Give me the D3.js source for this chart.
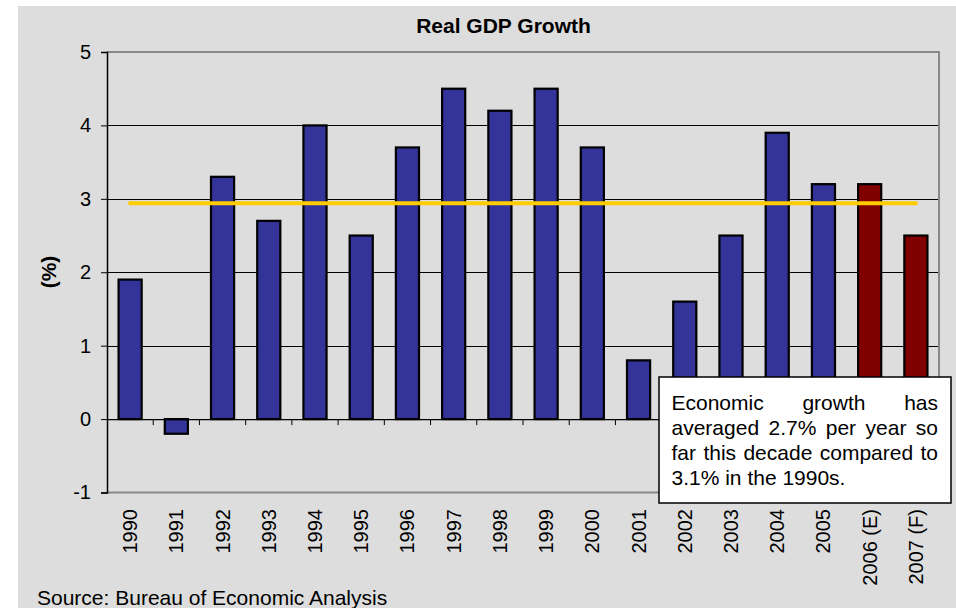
<!DOCTYPE html>
<html><head><meta charset="utf-8">
<script src="https://cdn.jsdelivr.net/npm/d3@7"></script>
<style>
html,body{margin:0;padding:0;background:#fff;}
text{font-family:"Liberation Sans",Arial,sans-serif;fill:#000;}
</style></head>
<body><svg id="c" width="956" height="608"></svg>
<script>
const categories = ["1990","1991","1992","1993","1994","1995","1996","1997","1998","1999","2000","2001","2002","2003","2004","2005","2006 (E)","2007 (F)"];
const growth = [1.9,-0.2,3.3,2.7,4.0,2.5,3.7,4.5,4.2,4.5,3.7,0.8,1.6,2.5,3.9,3.2,3.2,2.5];
const estimateFlags = [0,0,0,0,0,0,0,0,0,0,0,0,0,0,0,0,1,1];
const averageValue = 2.94;
const yTicks = [-1,0,1,2,3,4,5];
const yTickLabels = ["-1","0","1","2","3","4","5"];
const titleText = "Real GDP Growth";
const yLabel = "(%)";
const sourceText = "Source: Bureau of Economic Analysis";
const noteLines = ["Economic growth has","averaged 2.7% per year so","far this decade compared to","3.1% in the 1990s."];

const svg = d3.select("#c");
const L = 107, R = 939, T = 52, B = 492.5;

svg.append("rect").attr("x",18).attr("y",6).attr("width",938).attr("height",602).attr("fill","#dddddd");

const x = d3.scaleBand().domain(categories).range([L,R]).paddingInner(0.5).paddingOuter(0.25);
const y = d3.scaleLinear().domain([-1,5]).range([B,T]);

// gridlines
svg.append("g").selectAll("line").data([1,2,3,4]).join("line")
  .attr("x1",L).attr("x2",R).attr("y1",d=>Math.round(y(d))+0.5).attr("y2",d=>Math.round(y(d))+0.5)
  .attr("stroke","#000").attr("stroke-width",1);

// plot border (top/right/bottom grey)
svg.append("path").attr("d",`M${L},${y(5)}H${R}V${y(-1)}H${L}`).attr("fill","none")
  .attr("stroke","#888").attr("stroke-width",2);

// bars
svg.append("g").selectAll("rect").data(categories).join("rect")
  .attr("x",d=>x(d)).attr("width",x.bandwidth())
  .attr("y",(d,i)=>y(Math.max(0,growth[i])))
  .attr("height",(d,i)=>Math.abs(y(growth[i])-y(0)))
  .attr("fill",(d,i)=>estimateFlags[i]?"#800000":"#333399")
  .attr("stroke","#000").attr("stroke-width",2.2);

// average line
const first = categories[0], last = categories[categories.length-1];
svg.append("line")
  .attr("x1",x(first)+x.bandwidth()/2).attr("x2",x(last)+x.bandwidth()/2)
  .attr("y1",y(averageValue)).attr("y2",y(averageValue))
  .attr("stroke","#ffcc00").attr("stroke-width",4).attr("stroke-linecap","round");

// y axis
const yAxis = svg.append("g").attr("transform",`translate(${L},0)`)
  .call(d3.axisLeft(y).tickValues(yTicks).tickSize(6).tickPadding(10)
    .tickFormat((d,i)=>yTickLabels[i]));
yAxis.select(".domain").attr("stroke","#000").attr("stroke-width",1.5);
yAxis.selectAll(".tick line").attr("stroke","#000");
yAxis.selectAll("text").attr("font-size",20).attr("font-family",'"Liberation Sans",Arial,sans-serif').attr("fill","#000");

// x axis at zero
const xAxis = svg.append("g").attr("transform",`translate(0,${y(0)})`)
  .call(d3.axisBottom(x).tickSize(0).tickFormat(""));
xAxis.select(".domain").attr("stroke","#000").attr("stroke-width",1.2).attr("d",`M${L},0.5H${R}`);
// category boundary ticks
const step = x.step();
svg.append("g").selectAll("line").data(categories.slice(1)).join("line")
  .attr("x1",d=>x(d)-(step-x.bandwidth())/2).attr("x2",d=>x(d)-(step-x.bandwidth())/2)
  .attr("y1",y(0)).attr("y2",y(0)+6).attr("stroke","#000").attr("stroke-width",1);

// x labels
svg.append("g").selectAll("text").data(categories).join("text")
  .attr("transform",d=>`translate(${x(d)+x.bandwidth()/2},509) rotate(-90)`)
  .attr("text-anchor","end").attr("dy","0.35em").attr("font-size",20).text(d=>d);

// title
svg.append("text").attr("x",503.5).attr("y",32.5).attr("text-anchor","middle")
  .attr("font-size",21).attr("font-weight","bold").text(titleText);

// y label
svg.append("text").attr("transform","translate(56,272) rotate(-90)").attr("text-anchor","middle")
  .attr("font-size",21).attr("font-weight","bold").text(yLabel);

// source
svg.append("text").attr("x",37).attr("y",605).attr("font-size",21).text(sourceText);

// annotation box
svg.append("rect").attr("x",659).attr("y",377).attr("width",292).attr("height",126)
  .attr("fill","#fff").attr("stroke","#000").attr("stroke-width",1.5);
const tx0 = 671.5, tx1 = 938, baseY = 409.5, lh = 25.3;
const note = svg.append("g");
noteLines.forEach((line,li)=>{
  const words = line.split(" ");
  const ty = baseY + li*lh;
  if (li === noteLines.length-1) {
    note.append("text").attr("x",tx0).attr("y",ty).attr("font-size",21).text(line);
    return;
  }
  const nodes = words.map(w=>note.append("text").attr("y",ty).attr("font-size",21).text(w));
  const widths = nodes.map(n=>n.node().getComputedTextLength());
  const total = d3.sum(widths);
  const gap = (tx1-tx0-total)/(words.length-1);
  let cx = tx0;
  nodes.forEach((n,i)=>{ n.attr("x",cx); cx += widths[i]+gap; });
});
</script></body></html>
